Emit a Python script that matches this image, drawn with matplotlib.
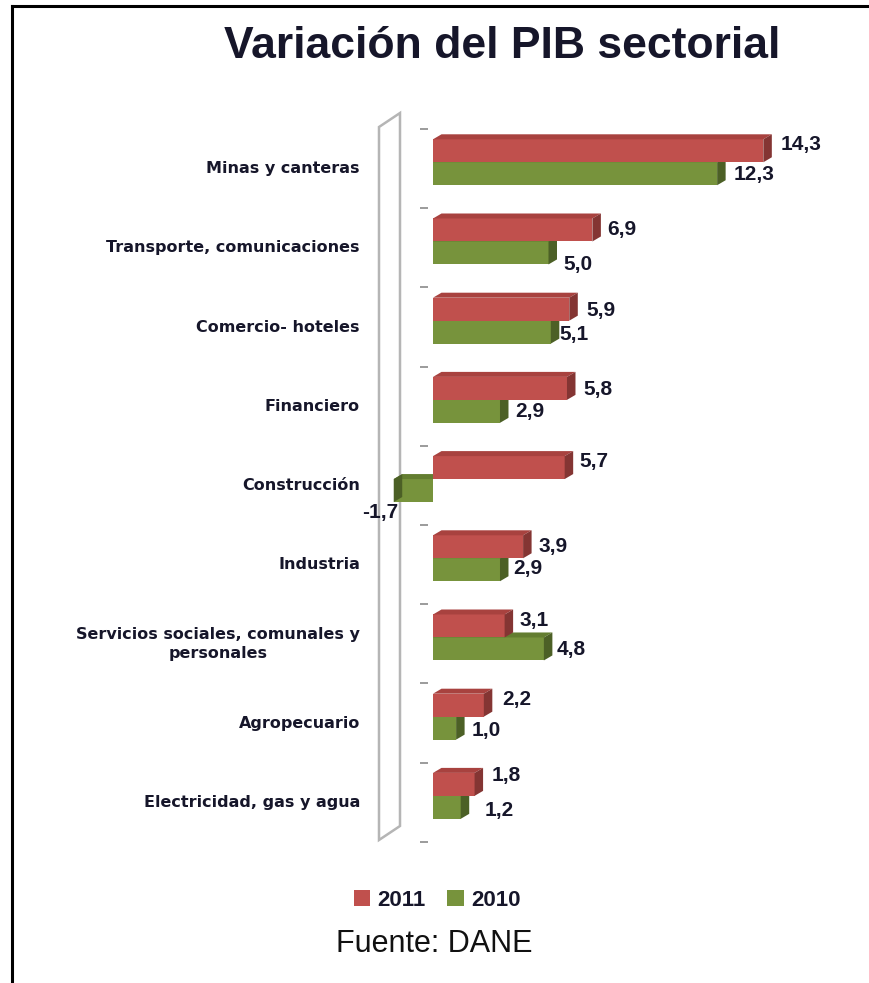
import matplotlib
matplotlib.use("Agg")
import matplotlib.pyplot as plt
from matplotlib.patches import Polygon, Patch
from matplotlib.lines import Line2D
import numpy as np

# ---- data -------------------------------------------------------------
sectors = [
    "Minas y canteras",
    "Transporte, comunicaciones",
    "Comercio- hoteles",
    "Financiero",
    "Construcción",
    "Industria",
    "Servicios sociales, comunales y\npersonales",
    "Agropecuario",
    "Electricidad, gas y agua",
]
pib_2011 = [14.3, 6.9, 5.9, 5.8, 5.7, 3.9, 3.1, 2.2, 1.8]
pib_2010 = [12.3, 5.0, 5.1, 2.9, -1.7, 2.9, 4.8, 1.0, 1.2]
years = ["2011", "2010"]

# ---- styling / layout ------------------------------------------------
W, H = 869, 983
DPI = 100
PT = 72.0 / DPI            # points per pixel

RED = "#C0504D"
RED_TOP = "#A8423F"
RED_SIDE = "#843533"
GREEN = "#77933C"
GREEN_TOP = "#637D30"
GREEN_SIDE = "#4C6026"
TEXT = "#16162a"

# per-label placement tweaks (pixels: dx right, dy down)
lab_dy_2011 = [-6, 0, 1, 1, -6, 0, -5, -6, -9]
lab_dy_2010 = [1, 12, 2, 0, 0, -1, 1, 2, 3]
lab_dx_2011 = [2, 0, 2, 1, 0, 0, 0, 3, 2]
lab_dx_2010 = [1, 0, -6, 0, 0, -2, -2, 1, 9]

fig = plt.figure(figsize=(W / DPI, H / DPI), dpi=DPI)
fig.patch.set_facecolor("white")

# plotting area in pixel coordinates
ax_l, ax_r, ax_t, ax_b = 360, 860, 100, 870
ax = fig.add_axes([ax_l / W, 1 - ax_b / H, (ax_r - ax_l) / W, (ax_b - ax_t) / H])
zero_px, px_per_unit = 433.0, 23.1
row0_px, row_px = 129.0, 79.2
ax.set_xlim((ax_l - zero_px) / px_per_unit, (ax_r - zero_px) / px_per_unit)
ax.set_ylim((ax_b - row0_px) / row_px, (ax_t - row0_px) / row_px)
ax.axis("off")

n = len(sectors)
idx = np.arange(n)
bar_h = 0.29
y_2011 = idx + 0.13 + bar_h / 2
y_2010 = idx + 0.42 + bar_h / 2

# depth of the extruded bars, in data units
ddx = 8.5 / px_per_unit
ddy = -5.0 / row_px

# back wall of the category axis
wl, wr = (379 - zero_px) / px_per_unit, (400 - zero_px) / px_per_unit
wall = Polygon(
    [(wl, (127 - row0_px) / row_px), (wl, (840 - row0_px) / row_px),
     (wr, (826 - row0_px) / row_px), (wr, (113 - row0_px) / row_px)],
    closed=True, facecolor="white", edgecolor="#b5b5b5", lw=1.8, zorder=1)
ax.add_patch(wall)

# small tick marks between categories
ax.hlines(np.arange(n + 1), (420 - zero_px) / px_per_unit, (428 - zero_px) / px_per_unit,
          color="#8a8a8a", lw=1.2, zorder=1)


def extrude(values, yc, front, top, side, z):
    bars = ax.barh(yc, values, height=bar_h, left=0, color=front, lw=0, zorder=z)
    for b in bars:
        x0, yt = b.get_x(), b.get_y()
        w, hgt = b.get_width(), b.get_height()
        x1 = x0 + w
        yb = yt + hgt
        ax.add_patch(Polygon([(x0, yt), (x1, yt), (x1 + ddx, yt + ddy), (x0 + ddx, yt + ddy)],
                             closed=True, facecolor=top, lw=0, zorder=z))
        ax.add_patch(Polygon([(x1, yt), (x1, yb), (x1 + ddx, yb + ddy), (x1 + ddx, yt + ddy)],
                             closed=True, facecolor=side, lw=0, zorder=z))
    return bars


extrude(pib_2010, y_2010, GREEN, GREEN_TOP, GREEN_SIDE, 2)
extrude(pib_2011, y_2011, RED, RED_TOP, RED_SIDE, 3)

lab_font = dict(fontsize=15, fontweight="bold", color=TEXT, family="Liberation Sans")


def fmt(v):
    return f"{v:.1f}".replace(".", ",")


for i in range(n):
    v = pib_2011[i]
    ax.annotate(fmt(v), xy=(v, y_2011[i]),
                xytext=((15 + lab_dx_2011[i]) * PT, -lab_dy_2011[i] * PT),
                textcoords="offset points", ha="left", va="center", zorder=5, **lab_font)
    v = pib_2010[i]
    if v >= 0:
        ax.annotate(fmt(v), xy=(v, y_2010[i]),
                    xytext=((15 + lab_dx_2010[i]) * PT, -lab_dy_2010[i] * PT),
                    textcoords="offset points", ha="left", va="center", zorder=5, **lab_font)
    else:
        ax.annotate(fmt(v), xy=(v, y_2010[i] + bar_h / 2),
                    xytext=(5 * PT, -1 * PT),
                    textcoords="offset points", ha="right", va="top", zorder=5, **lab_font)

# category names
for i, name in enumerate(sectors):
    ax.text(0, i + 0.5, name, transform=ax.get_yaxis_transform(),
            ha="right", va="center", multialignment="center",
            fontsize=11.5, fontweight="bold", color=TEXT, family="DejaVu Sans",
            linespacing=1.3)

# title
fig.text(502 / W, 1 - 47 / H, "Variación del PIB sectorial", ha="center", va="center",
         fontsize=32, fontweight="bold", color=TEXT, family="Liberation Sans")

# legend
handles = [Patch(facecolor=RED, edgecolor="none"), Patch(facecolor=GREEN, edgecolor="none")]
leg = fig.legend(handles, years, loc="center", bbox_to_anchor=(437 / W, 1 - 900 / H),
                 ncol=2, frameon=False, handlelength=0.75, handleheight=0.75,
                 handletextpad=0.3, columnspacing=1.0,
                 prop=dict(size=16, weight="bold", family="Liberation Sans"))
for t in leg.get_texts():
    t.set_color(TEXT)

fig.text(434 / W, 1 - 944 / H, "Fuente: DANE", ha="center", va="center",
         fontsize=22, color="#111111", family="Liberation Sans")

# outer frame (top and left edges)
fig.add_artist(Line2D([12 / W, 1.0], [1 - 6 / H, 1 - 6 / H], transform=fig.transFigure,
                      color="black", lw=2.2))
fig.add_artist(Line2D([12 / W, 12 / W], [0.0, 1 - 6 / H], transform=fig.transFigure,
                      color="black", lw=2.2))

fig.savefig("out.png", dpi=DPI, facecolor="white")
